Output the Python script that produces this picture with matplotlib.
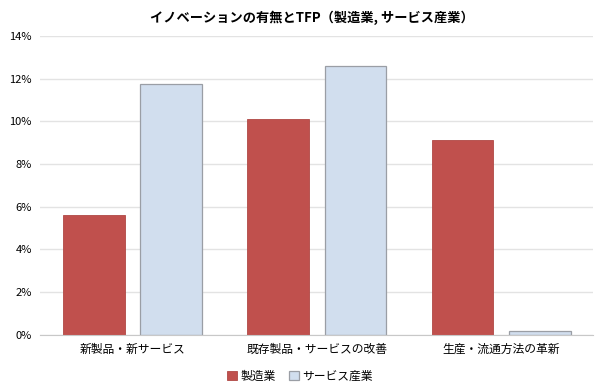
import matplotlib
matplotlib.use("Agg")
import matplotlib.pyplot as plt
import numpy as np

plt.rcParams['font.family'] = ['Noto Sans CJK JP', 'DejaVu Sans']

categories = ["新製品・新サービス", "既存製品・サービスの改善", "生産・流通方法の革新"]
series_names = ["製造業", "サービス産業"]
manufacturing = [5.6, 10.1, 9.15]
services = [11.75, 12.6, 0.2]
yticks = [0, 2, 4, 6, 8, 10, 12, 14]
title = "イノベーションの有無とTFP（製造業, サービス産業）"

fig = plt.figure(figsize=(6, 3.88), dpi=100)
ax = fig.add_axes([0.067, 0.137, 0.922, 0.77])

x = np.arange(len(categories))
w = 0.335
off = 0.21
ax.bar(x - off, manufacturing, w, color="#C0504D", edgecolor="#B04845", linewidth=0.6,
       label=series_names[0], zorder=3)
ax.bar(x + off, services, w, color="#D1DEEE", edgecolor="#9A9EA5", linewidth=0.9,
       label=series_names[1], zorder=3)

ax.set_xlim(-0.5, 2.5)
ax.set_ylim(0, 14)
ax.set_yticks(yticks)
ax.set_yticklabels([f"{v}%" for v in yticks], fontsize=8)
ax.set_xticks(x)
ax.set_xticklabels(categories, fontsize=8.5)
ax.tick_params(axis='both', length=0, pad=6)
ax.grid(axis='y', color="#E3E3E3", linewidth=1, zorder=0)
for s in ["top", "right", "left"]:
    ax.spines[s].set_visible(False)
ax.spines["bottom"].set_color("#C8C8C8")
ax.spines["bottom"].set_zorder(4)

fig.text(0.52, 0.955, title, ha="center", va="center", fontsize=9.5, fontweight="bold")

leg = fig.legend(loc="center", bbox_to_anchor=(0.5, 0.03), ncol=2, frameon=False,
                 fontsize=8.5, handlelength=0.8, handleheight=0.8, handletextpad=0.3,
                 columnspacing=1.2)

fig.savefig("out.png", dpi=100)
